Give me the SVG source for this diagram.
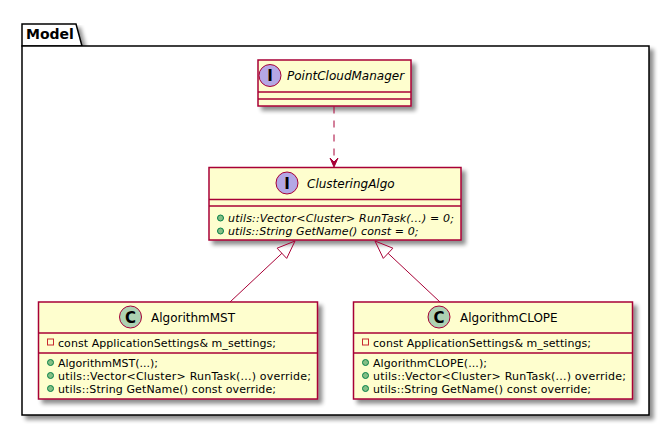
<svg xmlns="http://www.w3.org/2000/svg" width="670" height="427" viewBox="0 0 670 427">
<defs>
<filter id="sh" x="-10%" y="-10%" width="130%" height="130%">
<feGaussianBlur in="SourceAlpha" stdDeviation="2" result="b"/>
<feOffset in="b" dx="4" dy="4" result="o"/>
<feComponentTransfer in="o" result="c"><feFuncA type="linear" slope="0.45"/></feComponentTransfer>
<feMerge><feMergeNode in="c"/><feMergeNode in="SourceGraphic"/></feMerge>
</filter>
</defs>
<style>
.box{fill:#FEFECE;stroke:#A80036;stroke-width:1.5;filter:url(#sh)}
.div{stroke:#A80036;stroke-width:1.5}
.ti{font-family:"DejaVu Sans",sans-serif;font-size:12px;fill:#000}
.it{font-style:italic}
.mem{font-family:"DejaVu Sans",sans-serif;font-size:11px;fill:#000}
.ci{fill:#B4A7E5;stroke:#A80036;stroke-width:1}
.cc{fill:#ADD1B2;stroke:#A80036;stroke-width:1}
.glyph{font-family:"DejaVu Sans",sans-serif;font-weight:bold;font-size:15px;fill:#000;text-anchor:middle}
.pub{fill:#84BE84;stroke:#038048;stroke-width:1}
.priv{fill:none;stroke:#C82930;stroke-width:1}
.edge{stroke:#A80036;stroke-width:1;fill:none}
</style>
<g id="pkg-Model">
<path d="M22,46 L22,24 L76,24 L82,46 Z" fill="#FFFFFF" stroke="#000" stroke-width="1.5" filter="url(#sh)"/>
<rect x="22" y="46" width="627" height="369" fill="#FFFFFF" stroke="#000" stroke-width="1.5" filter="url(#sh)"/>
<text x="26" y="39" font-family="DejaVu Sans,sans-serif" font-weight="bold" font-size="14">Model</text>
</g>
<g id="PointCloudManager">
<rect class="box" x="258" y="60" width="153" height="46"/>
<circle class="ci" cx="270" cy="75.5" r="11"/>
<text class="glyph" x="270" y="81">I</text>
<text class="ti it" x="287" y="80">PointCloudManager</text>
<line class="div" x1="258" y1="92" x2="411" y2="92"/>
<line class="div" x1="258" y1="99" x2="411" y2="99"/>
</g>
<g id="ClusteringAlgo">
<rect class="box" x="209" y="167.5" width="252" height="72.5"/>
<circle class="ci" cx="287" cy="183" r="11"/>
<text class="glyph" x="287" y="188.5">I</text>
<text class="ti it" x="307" y="187.5">ClusteringAlgo</text>
<line class="div" x1="209" y1="199.5" x2="461" y2="199.5"/>
<line class="div" x1="209" y1="206" x2="461" y2="206"/>
<circle class="pub" cx="220.5" cy="218" r="3"/>
<text class="mem it" x="228" y="222" textLength="226" lengthAdjust="spacing">utils::Vector&lt;Cluster&gt; RunTask(...) = 0;</text>
<circle class="pub" cx="220.5" cy="231" r="3"/>
<text class="mem it" x="228" y="235" textLength="190.5" lengthAdjust="spacing">utils::String GetName() const = 0;</text>
</g>
<g id="AlgorithmMST">
<rect class="box" x="38.5" y="302" width="279" height="97"/>
<circle class="cc" cx="130.5" cy="317" r="11"/>
<text class="glyph" x="130.5" y="322.5">C</text>
<text class="ti" x="151" y="322">AlgorithmMST</text>
<line class="div" x1="38.5" y1="333" x2="317.5" y2="333"/>
<rect class="priv" x="47.5" y="339" width="6" height="6"/>
<text class="mem" x="58" y="346.5" textLength="218" lengthAdjust="spacing">const ApplicationSettings&amp; m_settings;</text>
<line class="div" x1="38.5" y1="353" x2="317.5" y2="353"/>
<circle class="pub" cx="50.5" cy="362.5" r="3"/>
<text class="mem" x="58" y="366.5" textLength="100" lengthAdjust="spacing">AlgorithmMST(...);</text>
<circle class="pub" cx="50.5" cy="375.5" r="3"/>
<text class="mem" x="58" y="379.5" textLength="253" lengthAdjust="spacing">utils::Vector&lt;Cluster&gt; RunTask(...) override;</text>
<circle class="pub" cx="50.5" cy="388.5" r="3"/>
<text class="mem" x="58" y="392.5" textLength="218" lengthAdjust="spacing">utils::String GetName() const override;</text>
</g>
<g id="AlgorithmCLOPE">
<rect class="box" x="353.5" y="302" width="279" height="97"/>
<circle class="cc" cx="439" cy="317" r="11"/>
<text class="glyph" x="439" y="322.5">C</text>
<text class="ti" x="460" y="322">AlgorithmCLOPE</text>
<line class="div" x1="353.5" y1="333" x2="632.5" y2="333"/>
<rect class="priv" x="362.5" y="339" width="6" height="6"/>
<text class="mem" x="373" y="346.5" textLength="218" lengthAdjust="spacing">const ApplicationSettings&amp; m_settings;</text>
<line class="div" x1="353.5" y1="353" x2="632.5" y2="353"/>
<circle class="pub" cx="365.5" cy="362.5" r="3"/>
<text class="mem" x="373" y="366.5" textLength="114" lengthAdjust="spacing">AlgorithmCLOPE(...);</text>
<circle class="pub" cx="365.5" cy="375.5" r="3"/>
<text class="mem" x="373" y="379.5" textLength="253" lengthAdjust="spacing">utils::Vector&lt;Cluster&gt; RunTask(...) override;</text>
<circle class="pub" cx="365.5" cy="388.5" r="3"/>
<text class="mem" x="373" y="392.5" textLength="218" lengthAdjust="spacing">utils::String GetName() const override;</text>
</g>
<g id="connectors">
<line class="edge" x1="334" y1="106.5" x2="334" y2="161" stroke-dasharray="7,7"/>
<polygon points="334,167 330,158 334,162 338,158" fill="#A80036" stroke="#A80036" stroke-width="1"/>
<line class="edge" x1="230" y1="302" x2="281.9" y2="253.3"/>
<polygon class="edge" points="295,241 277.1,248.2 286.7,258.4"/>
<line class="edge" x1="440" y1="302" x2="388.1" y2="253.3"/>
<polygon class="edge" points="375,241 392.9,248.2 383.3,258.4"/>
</g>
</svg>
